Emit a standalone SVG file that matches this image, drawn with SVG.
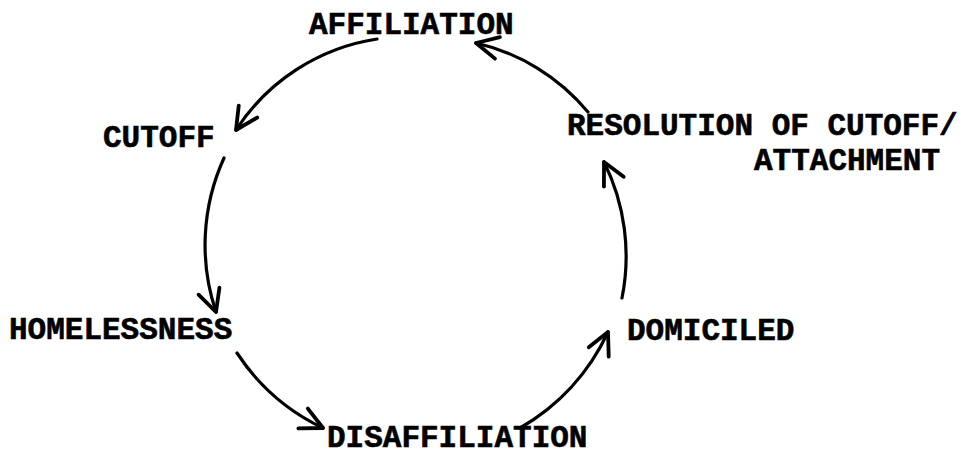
<svg xmlns="http://www.w3.org/2000/svg" width="961" height="456" viewBox="0 0 961 456">
<style>
.lbl{font-family:"Liberation Mono","Courier New",monospace;font-weight:bold;font-size:31px;fill:#000;stroke:#000;stroke-width:0.6}
.arc{fill:none;stroke:#000;stroke-width:3.2;stroke-linecap:round;marker-end:url(#ah)}
</style>
<defs>
<marker id="ah" markerUnits="userSpaceOnUse" viewBox="-26 -14 30 28" refX="0" refY="0" markerWidth="30" markerHeight="28" orient="auto" overflow="visible">
<path d="M -22 -11 L 0 0 L -22 11" fill="none" stroke="#000" stroke-width="3.8" stroke-linecap="round" stroke-linejoin="round"/>
</marker>
</defs>
<rect width="961" height="456" fill="#fff"/>
<g id="connectors">
<path class="arc" d="M 377 39 A 205 205 0 0 0 236 130"/>
<path class="arc" d="M 224 158 A 210 210 0 0 0 216 312"/>
<path class="arc" d="M 237 353 A 212 212 0 0 0 323 428"/>
<path class="arc" d="M 520 428 A 215 215 0 0 0 608 332"/>
<path class="arc" d="M 622 298 A 212 212 0 0 0 604 162"/>
<path class="arc" d="M 588 112 A 205 205 0 0 0 476 43"/>
</g>
<g id="affiliation"><text class="lbl" x="309" y="34">AFFILIATION</text></g>
<g id="cutoff"><text class="lbl" x="103" y="147">CUTOFF</text></g>
<g id="resolution"><text class="lbl" x="567" y="135">RESOLUTION OF CUTOFF/</text><text class="lbl" x="754" y="170">ATTACHMENT</text></g>
<g id="homelessness"><text class="lbl" x="9" y="339">HOMELESSNESS</text></g>
<g id="domiciled"><text class="lbl" x="627" y="340">DOMICILED</text></g>
<g id="disaffiliation"><text class="lbl" x="327" y="447">DISAFFILIATION</text></g>
</svg>
